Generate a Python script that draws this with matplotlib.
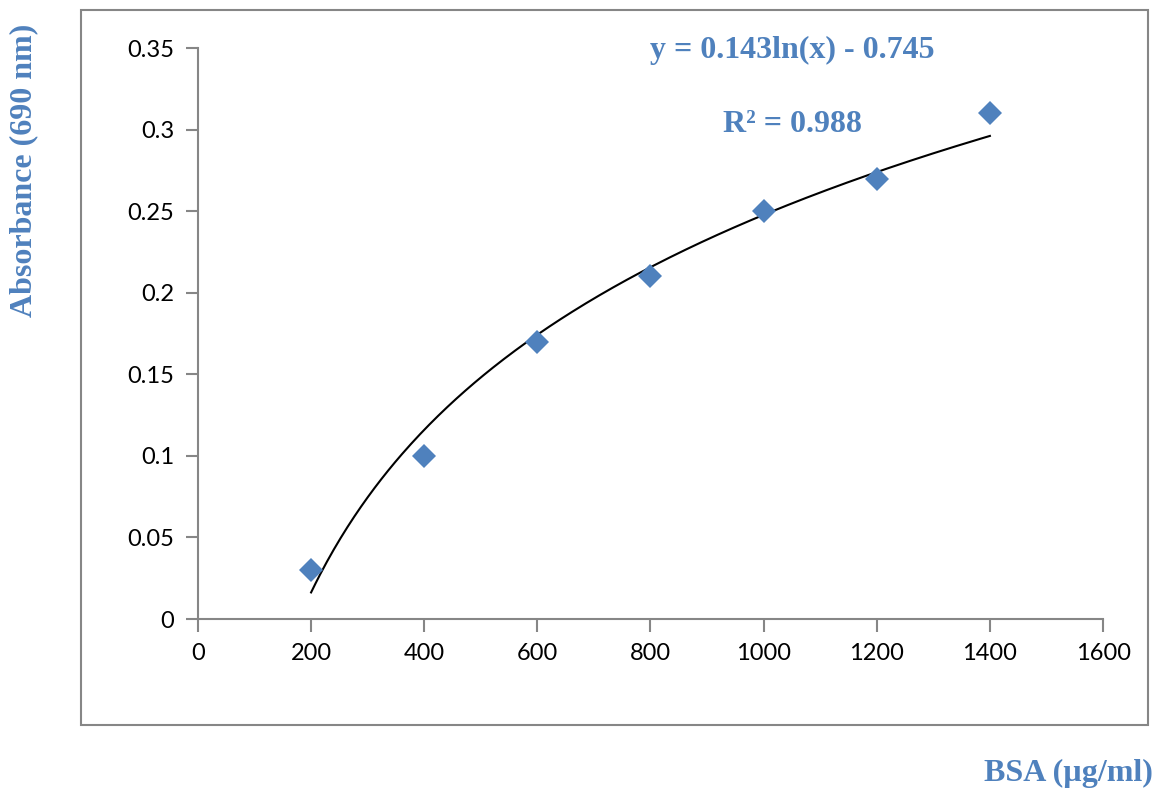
import matplotlib.pyplot as plt
import numpy as np
from matplotlib.patches import Rectangle

# BSA standard curve data
bsa = [200, 400, 600, 800, 1000, 1200, 1400]
absorbance = [0.03, 0.10, 0.17, 0.21, 0.25, 0.27, 0.31]
x_ticks = [0, 200, 400, 600, 800, 1000, 1200, 1400, 1600]
y_ticks = [0, 0.05, 0.1, 0.15, 0.2, 0.25, 0.3, 0.35]
y_tick_labels = ['0', '0.05', '0.1', '0.15', '0.2', '0.25', '0.3', '0.35']
eq_text = 'y = 0.143ln(x) - 0.745'
r2_text = 'R² = 0.988'

blue = '#4F81BD'
grey = '#868686'

fig = plt.figure(figsize=(11.55, 7.91), dpi=100)
ax = fig.add_axes([0.1714, 0.2174, 0.7836, 0.7219])

# chart border (excel style chart area)
fig.patches.append(Rectangle((81 / 1155, 1 - 725 / 791), (1148 - 81) / 1155, (725 - 10) / 791,
                             transform=fig.transFigure, fill=False,
                             edgecolor=grey, linewidth=1.5))

# log trendline fitted from the points
coef = np.polyfit(np.log(bsa), absorbance, 1)
xs = np.linspace(bsa[0], bsa[-1], 300)
ax.plot(xs, coef[0] * np.log(xs) + coef[1], color='black', linewidth=1.5, zorder=2)

ax.plot(bsa, absorbance, linestyle='none', marker='D', markersize=12,
        color=blue, markeredgewidth=0, zorder=3)

ax.set_xlim(0, 1600)
ax.set_ylim(0, 0.35)
ax.set_xticks(x_ticks)
ax.set_yticks(y_ticks)
ax.set_yticklabels(y_tick_labels)

for s in ['top', 'right']:
    ax.spines[s].set_visible(False)
for s in ['left', 'bottom']:
    ax.spines[s].set_color(grey)
    ax.spines[s].set_linewidth(1.5)
ax.tick_params(direction='out', length=9, width=1.5, color=grey,
               labelsize=17, pad=8)
for lab in ax.get_xticklabels() + ax.get_yticklabels():
    lab.set_family('Lato')

# trendline annotation (placed in axes fraction)
ax.text(0.657, 0.996, eq_text, transform=ax.transAxes, fontsize=23,
        fontweight='bold', color=blue, family='Liberation Serif',
        ha='center', va='center')
ax.text(0.657, 0.866, r2_text, transform=ax.transAxes, fontsize=23,
        fontweight='bold', color=blue, family='Liberation Serif',
        ha='center', va='center')

fig.text(24 / 1155, 1 - 170 / 791, 'Absorbance (690 nm)', rotation=90,
         fontsize=23, fontweight='bold', color=blue, family='Liberation Serif',
         ha='center', va='center')
fig.text(1153 / 1155, 1 - 773 / 791, 'BSA (µg/ml)', fontsize=23,
         fontweight='bold', color=blue, family='Liberation Serif',
         ha='right', va='center')

fig.savefig('out.png', dpi=100)
